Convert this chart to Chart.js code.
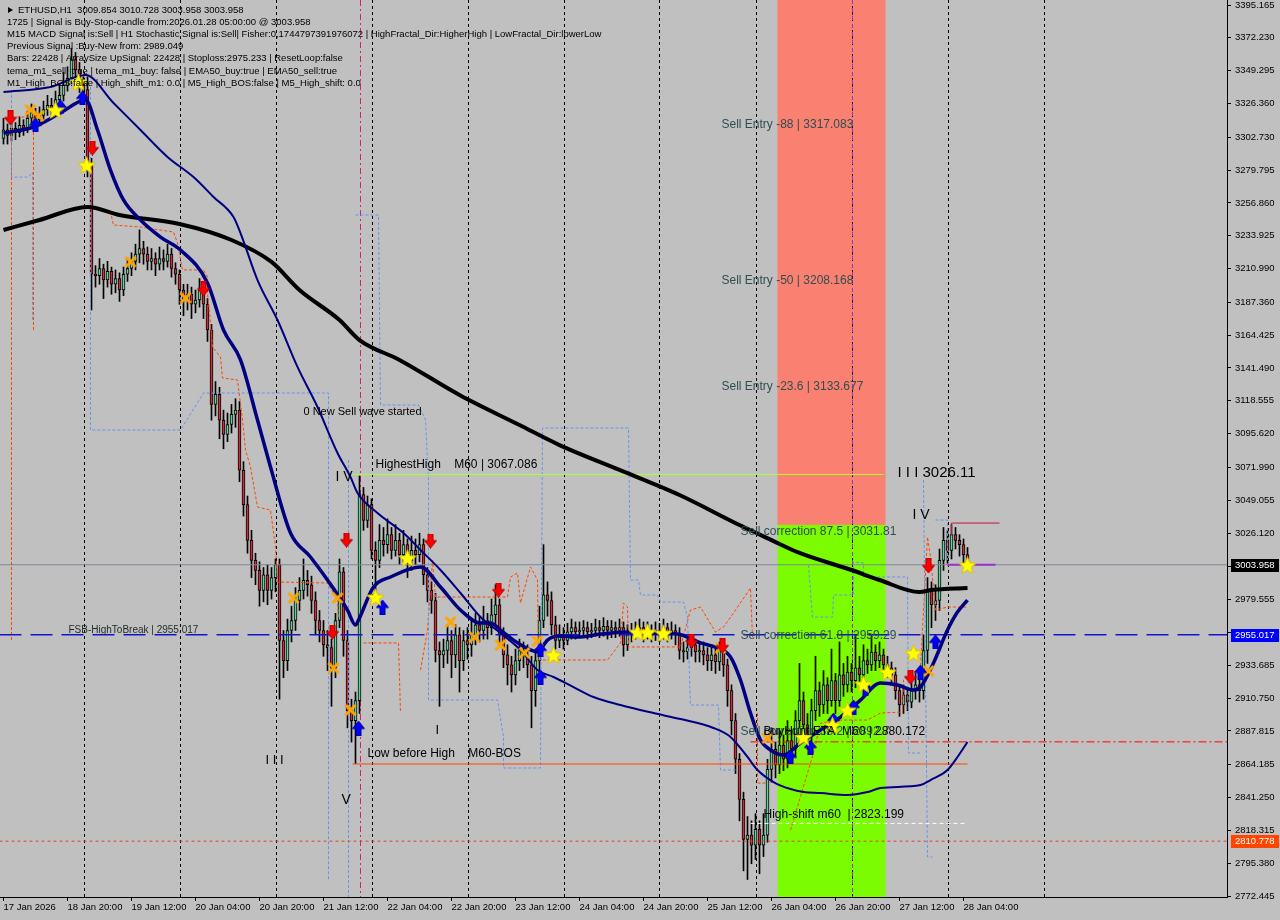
<!DOCTYPE html>
<html>
<head>
<meta charset="utf-8">
<script src="https://cdn.jsdelivr.net/npm/chart.js@4.4.1/dist/chart.umd.min.js"></script>
<style>
html, body { margin: 0; padding: 0; background: #c0c0c0; overflow: hidden; }
canvas { display: block; }
</style>
</head>
<body>
<canvas id="chart" width="1280" height="920"></canvas>
<script>
const FONT = "'Liberation Sans', Arial, sans-serif"

// ETHUSD H1, one bar per hour, bar 0 = 18 Jan 04:00
const firstOpen = 3302
const closes = [
  3308,3304,3309,3306,3311,3309,3316,3320,3315,3318, 3322,3325,3323,3329,3332,3339,3344,3357,3350,3339,
  3336,3283,3207,3206,3211,3203,3209,3200,3204,3196, 3207,3211,3216,3221,3225,3221,3216,3218,3214,3218,
  3216,3221,3211,3207,3196,3189,3193,3186,3189,3196, 3186,3168,3116,3123,3105,3095,3102,3109,3112,3070,
  3046,3021,3007,3000,2986,2997,2986,2995,3004,2951, 2937,2958,2965,2979,2986,2993,2990,2979,2965,2958,
  2948,2946,2932,2965,2999,2951,2902,2895,2909,3053, 3035,3046,3014,3007,3021,3018,3025,3014,3021,3011,
  3018,3007,3014,3011,3018,2997,2986,2979,2944,2941, 2944,2951,2941,2955,2937,2951,2948,2955,2962,2958,
  2965,2960,2969,2976,2955,2941,2934,2927,2937,2944, 2941,2934,2916,2937,2965,2983,2979,2962,2951,2955,
  2951,2957,2960,2957,2958,2960,2957,2958,2960,2958, 2961,2958,2960,2958,2960,2948,2955,2957,2958,2960,
  2957,2958,2956,2958,2956,2960,2957,2958,2955,2944, 2943,2946,2948,2943,2944,2941,2937,2941,2936,2944,
  2934,2916,2895,2868,2840,2812,2815,2808,2819,2808, 2815,2861,2875,2864,2878,2868,2881,2875,2895,2909,
  2892,2885,2902,2916,2906,2920,2909,2923,2909,2927, 2920,2929,2923,2932,2927,2937,2934,2943,2937,2941,
  2934,2932,2927,2916,2906,2913,2908,2916,2920,2916, 2944,2986,2976,2979,3007,3021,3014,3025,3021,3018,
  3011,3003.958
]
const highs = [
  3316,3312,3315,3313,3317,3315,3321,3326,3323,3324, 3328,3332,3330,3335,3340,3348,3352,3365,3362,3355,
  3345,3345,3288,3213,3218,3214,3216,3212,3210,3208, 3212,3218,3222,3228,3238,3230,3226,3225,3222,3226,
  3224,3228,3225,3215,3210,3200,3200,3198,3196,3204, 3200,3190,3172,3132,3128,3112,3110,3116,3120,3118,
  3076,3052,3028,3012,3006,3002,3004,3002,3008,3008, 2958,2966,2975,2988,2995,3008,3000,2996,2985,2972,
  2965,2958,2952,2970,3008,3002,2958,2910,2915,3066, 3058,3052,3050,3020,3032,3030,3036,3030,3032,3026,
  3028,3022,3024,3022,3026,3022,3002,2992,2984,2950, 2952,2962,2958,2962,2960,2958,2960,2965,2970,2968,
  2975,2970,2980,2990,2980,2960,2948,2940,2945,2952, 2950,2948,2940,2945,2975,3018,2992,2985,2968,2962,
  2960,2963,2966,2964,2964,2965,2964,2963,2966,2965, 2967,2965,2965,2964,2966,2964,2962,2963,2964,2966,
  2964,2964,2962,2964,2963,2966,2963,2964,2962,2960, 2950,2952,2955,2952,2950,2950,2946,2948,2946,2950,
  2948,2938,2920,2900,2872,2845,2828,2825,2830,2825, 2830,2868,2890,2880,2888,2885,2895,2888,2902,2935,
  2915,2900,2910,2940,2922,2930,2925,2945,2928,2950, 2935,2940,2935,2955,2940,2948,2945,2955,2948,2950,
  2945,2940,2936,2932,2920,2920,2918,2925,2928,2926, 2955,2995,2992,2990,3015,3030,3028,3032,3030,3025,
  3022,3016
]
const lows = [
  3298,3298,3300,3301,3303,3304,3306,3312,3310,3312, 3315,3318,3318,3320,3325,3328,3335,3340,3345,3334,
  3328,3275,3182,3198,3200,3190,3198,3193,3194,3188, 3192,3202,3206,3210,3215,3214,3210,3210,3206,3210,
  3210,3212,3205,3200,3186,3178,3182,3176,3180,3184, 3176,3160,3105,3108,3092,3085,3090,3096,3100,3062,
  3038,3012,2995,2990,2975,2978,2976,2980,2985,2910, 2925,2930,2950,2958,2972,2980,2982,2970,2955,2950,
  2940,2930,2905,2925,2960,2940,2890,2880,2865,2900, 3028,3030,3008,2980,3002,3010,3012,3008,3010,3004,
  3006,2995,3000,3004,3006,2990,2978,2970,2936,2905, 2932,2935,2925,2932,2915,2930,2938,2940,2948,2950,
  2952,2952,2955,2962,2948,2932,2920,2915,2920,2930, 2932,2925,2890,2905,2930,2960,2968,2955,2945,2946,
  2945,2948,2952,2952,2953,2954,2952,2953,2954,2953, 2954,2952,2953,2953,2954,2940,2944,2950,2952,2954,
  2950,2952,2950,2951,2950,2952,2950,2952,2948,2938, 2936,2938,2940,2936,2936,2934,2930,2930,2928,2930,
  2926,2905,2885,2858,2825,2790,2784,2795,2798,2788, 2800,2810,2852,2855,2858,2860,2862,2865,2870,2890,
  2880,2875,2878,2895,2898,2900,2900,2905,2900,2905, 2912,2915,2915,2918,2920,2925,2928,2930,2930,2932,
  2928,2925,2920,2910,2898,2900,2902,2904,2910,2908, 2910,2935,2960,2965,2972,3000,3005,3008,3015,3010,
  3005,3002
]

const timeTickBars = [0,16,32,48,64,80,96,112,128,144,160,176,192,208,224,240]
const timeLabels = ['17 Jan 2026','18 Jan 20:00','19 Jan 12:00','20 Jan 04:00','20 Jan 20:00','21 Jan 12:00',
  '22 Jan 04:00','22 Jan 20:00','23 Jan 12:00','24 Jan 04:00','24 Jan 20:00','25 Jan 12:00',
  '26 Jan 04:00','26 Jan 20:00','27 Jan 12:00','28 Jan 04:00']
const priceTicks = [3395.165,3372.230,3349.295,3326.360,3302.730,3279.795,3256.860,3233.925,3210.990,
  3187.360,3164.425,3141.490,3118.555,3095.620,3071.990,3049.055,3026.120,3002.850,2979.555,2956.620,
  2933.685,2910.750,2887.815,2864.185,2841.250,2818.315,2795.380,2772.445]
const daySeparators = [20,44,68,92,116,140,164,188,212,236,260]

// moving averages, [bar, price]
const emaSlow = [[0,3237.9],[9,3244.9],[21,3254],[29,3248.4],[44,3242.1],[57,3230.9],[67,3215.6],[74,3196],
  [84,3175],[89,3161],[99,3147.1],[114,3122.6],[129,3101.6],[139,3087.6],[154,3070.2],[169,3052.7],
  [184,3031.7],[192,3021.2],[199,3012.2],[212,3000.3],[219,2993.3],[229,2984.9],[232,2986.3],[241,2987.7]]
const maFast = [[0,3305.7],[7.5,3309.9],[14.25,3319.7],[20.5,3328.8],[23.5,3307.8],[26.75,3279.8],[30,3258.9],
  [34.25,3244.9],[39.25,3233],[44.25,3223.9],[51,3200.9],[55,3168],[59.25,3147.1],[63.5,3105.1],[66.75,3072.3],
  [71.75,3026.2],[76.75,3009.4],[81,2993.3],[86,2972.3],[88,2961.8],[88.75,2965.3],[92.5,2988.4],[96.75,2995.4],
  [104.25,3002.4],[109.25,2988.4],[114.25,2972.3],[119.25,2963.2],[121.75,2963.2],[124.25,2958.3],[127.5,2951.3],
  [131.75,2944.4],[133.5,2943],[136,2951.3],[138.5,2954.2],[143.5,2953.4],[149.25,2955.5],[156,2956.9],
  [162.5,2956.2],[168.5,2955.5],[174.25,2949.3],[178.5,2945.8],[181.75,2939.5],[184.25,2923.4],[186.75,2900.3],
  [189.25,2881.5],[191.75,2874.5],[195,2871],[199.25,2879.4],[204.25,2888.5],[209.25,2897.5],[214.25,2909.4],
  [219.25,2921.3],[223.5,2919.9],[227.5,2916.4],[229.25,2918.5],[232.5,2935.3],[236,2958.3],[238.5,2970.9],[241,2979.3]]
const maMid = [[0,3334.4],[11.75,3337.9],[20.5,3346.2],[27.5,3326.7],[34.25,3307.8],[41,3289],[47.5,3274.9],
  [52.5,3261],[57.5,3247],[59.25,3235.8],[63.5,3202.9],[68.5,3175],[73.5,3142.2],[78.5,3114.2],[83.5,3082.1],
  [86.75,3065.3],[88.5,3054.1],[93.5,3040.1],[100,3026.1],[104.25,3014.3],[109.25,3000.3],[114.25,2984.2],
  [119.25,2967.4],[124.25,2956.2],[129.25,2944.4],[133.5,2930.4],[137.5,2925.5],[142.5,2918.5],[147.5,2911.5],
  [154.25,2905.9],[162.5,2900.3],[169.25,2896.1],[177.5,2889.9],[181.75,2883.6],[186,2869.6],[188.5,2860.5],
  [192.5,2852.1],[196.75,2847.2],[200,2845.1],[204.25,2844.4],[211,2843],[216,2845.1],[219.25,2847.9],
  [229.25,2850],[231.75,2853.5],[236,2860.5],[238.5,2869.6],[241,2880.1]]

// fractal channels, one list per segment, [bar, price]
const blueChannel = [
  [[2,3335.7],[2,3274.9],[6.25,3274.9],[7.25,3278.4],[7.25,3175]],
  [[21.75,3337.9],[21.75,3098.1],[44.25,3098.1],[50,3124],[81.25,3124],[81.25,2783.6]],
  [[86.25,3077.2],[86.25,2771.7]],
  [[88,3248.4],[93.75,3248.4],[94.25,3115.6],[103.75,3115.6],[105.5,3105.1],[106.25,3063.2],[106.25,2909.4],
   [123.5,2909.4],[125,2883.6],[125,2861.9],[134.25,2861.9],[134.75,3099.5],[156.25,3099.5],[156.75,2993.3],
   [158.75,2993.3],[159.25,2982.8],[163.5,2982.8],[164.25,2977.9],[170,2977.9],[171,2967.4],[171.75,2905.9],
   [178.75,2905.9],[179.25,2860.5],[183,2860.5]],
  [[201.25,3003.8],[202.25,2967.4],[207.25,2967.4],[207.5,2982.8],[212.5,2982.8],[212.5,3005.9],[215,3005.2],
   [215,2995.4],[226,2995.4],[226.25,2872.4],[229.25,2872.4]],
  [[230,3063.2],[231,2799.7],[232.25,2799.7]],
  [[233,3035.2],[236,3035.2],[236,3007.3]]
]
const redChannel = [
  [[2,3316.9],[7.25,3316.9]],
  [[2,3316.9],[2,2951.3]],
  [[7.5,3316.9],[7.5,3168]],
  [[21.75,3254],[26.75,3250.5],[27.5,3241.4],[34.25,3240],[42.5,3236.5],[43.5,3228.8],[44.75,3210],[50,3210],
   [51,3205.1],[51,3193.9],[51.75,3172.9],[52.25,3156.1],[54.25,3149.1],[54.75,3134.5],[58.5,3133.1],
   [59.75,3105.1],[60.5,3084.1],[61.75,3072.3],[63.5,3044.3],[66.75,3042.2],[68,3016.4],[68.5,2991.9],
   [81,2991.2],[83.5,2979.3],[83.75,2967.4]],
  [[90,2949.3],[98.75,2949.3],[99.25,2900.3]],
  [[104.25,2930.4],[106,2958.3],[107.25,3007.3],[108,2981.4],[126,2981.4],[126.75,2995.4],[128.5,2998.2],
   [129.25,2977.2],[131.75,3002.4],[133.5,2993.3],[133.75,2937.4],[151,2937.4],[154.25,2949.3],[155,2977.2],
   [156,2974.4],[156.25,2946.5],[169.25,2946.5],[171.75,2972.3],[174.25,2974.4],[178,2956.9],[180,2960.4],
   [182.5,2970.2],[186.75,2987.7],[187.25,2953.4]],
  [[188.5,2900.3],[188.5,2851.4],[191,2851.4]],
  [[196.75,2818.5],[202.5,2872.4],[204.25,2893.3],[209.25,2895.4],[216,2895.4],[219.25,2900.3],[224.75,2901],
   [225,2923.4],[229.25,2932.5],[231,3023.3],[231.75,3009.4],[233,2972.3],[236,2974.4],[241,2974.4]]
]

// price levels
const bidPrice = 3003.958
const fsbHighToBreak = 2955.017
const lowMarker = 2810.778
const highestHigh = 3067.086
const lowBeforeHigh = 2864.7
const buyHunt = 2880.172
const highShift = 2823.199
const correctionTop = 3033.1
const zoneFrom = 194, zoneTo = 220, zoneSplit = 3031.81

// signal markers, [bar, price]
const sellArrows = [[1.75,3316.2],[22.25,3295.2],[50,3196.7],[85.75,3021.2],[82.25,2956.9],[106.75,3020.5],
  [123.75,2986.3],[172,2950.6],[179.75,2947.2],[231.25,3003.1],[226.75,2925.5]]
const buyArrows = [[8,3311.3],[14.25,3323.9],[19.75,3330.2],[88.75,2889.8],[94.75,2974.4],[134.25,2925.5],
  [134.25,2944.4],[196.75,2869.6],[201.75,2876.5],[207.5,2895.4],[212.5,2904.5],[215.5,2917.8],[229.25,2929],[233,2950]]
const stars = [[13,3321.8],[18.75,3341.4],[20.75,3283.4],[93,2981.4],[101,3008.7],[137.5,2940.9],[158.5,2956.9],
  [161,2956.9],[165,2956.2],[200,2883.5],[207.25,2891.9],[211,2902.4],[215,2920.6],[221,2929],[227.5,2942.3],[241,3003.8]]
const crosses = [[6.75,3321.8],[8.75,3317.6],[31.75,3215.6],[45.5,3190.4],[72.5,2980.7],[83.5,2980.7],[82.5,2931.8],
  [86.75,2902.4],[111.75,2963.9],[117.75,2953.4],[124.25,2947.9],[130.25,2942.3],[133.5,2950.6],[179.25,2945.7],
  [191,2882.8],[231.25,2929.7]]

const notes = [
  {text: 'Sell Entry -88 | 3317.083', bar: 179.5, price: 3317.083, dy: 8, size: 12, color: '#2f4f4f'},
  {text: 'Sell Entry -50 | 3208.168', bar: 179.5, price: 3208.168, dy: 8, size: 12, color: '#2f4f4f'},
  {text: 'Sell Entry -23.6 | 3133.677', bar: 179.5, price: 3133.677, dy: 8, size: 12, color: '#2f4f4f'},
  {text: 'Sell correction 87.5 | 3031.81', bar: 184.25, price: 3031.81, dy: 7, size: 12, color: '#2f4f4f'},
  {text: 'Sell correction 61.8 | 2959.29', bar: 184.25, price: 2959.29, dy: 7, size: 12, color: '#2f4f4f'},
  {text: 'Sell correction 38.2 | 2892.7', bar: 184.25, price: 2892.7, dy: 8, size: 12, color: '#2f4f4f'},
  {text: 'BuyHunt ETA  M60 | 2880.172', bar: 190, price: 2880.172, dy: -10, size: 12, color: '#000'},
  {text: 'High-shift m60  | 2823.199', bar: 190, price: 2823.199, dy: -9, size: 12, color: '#000'},
  {text: 'HighestHigh    M60 | 3067.086', bar: 93, price: 3067.086, dy: -10, size: 12, color: '#000'},
  {text: 'Low before High    M60-BOS', bar: 91, price: 2864.7, dy: -10, size: 12, color: '#000'},
  {text: 'FSB-HighToBreak | 2955.017', bar: 16.25, price: 2955.017, dy: -5, size: 10, color: '#1e2a2a'},
  {text: '0 New Sell wave started', bar: 75, price: 3110.7, dy: 0, size: 11, color: '#000'},
  {text: 'I I I 3026.11', bar: 223.5, price: 3068.1, dy: 0, size: 15, color: '#000'},
  {text: 'I V', bar: 227.25, price: 3038.7, dy: 0, size: 14, color: '#000'},
  {text: 'I V', bar: 83, price: 3065.3, dy: 0, size: 14, color: '#000'},
  {text: 'V', bar: 84.5, price: 2839.5, dy: 0, size: 14, color: '#000'},
  {text: 'I I I', bar: 65.5, price: 2867.5, dy: 0, size: 13, color: '#000'},
  {text: 'I', bar: 108, price: 2888.5, dy: 0, size: 13, color: '#000'}
]

const infoLines = [
  'ETHUSD,H1  3009.854 3010.728 3003.958 3003.958',
  '1725 | Signal is Buy-Stop-candle from:2026.01.28 05:00:00 @ 3003.958',
  'M15 MACD Signal is:Sell | H1 Stochastic Signal is:Sell| Fisher:0,1744797391976072 | HighFractal_Dir:HigherHigh | LowFractal_Dir:lowerLow',
  'Previous Signal :Buy-New from: 2989.049',
  'Bars: 22428 | ArraySize UpSignal: 22428 | Stoploss:2975.233 | ResetLoop:false',
  'tema_m1_sell: true | tema_m1_buy: false | EMA50_buy:true | EMA50_sell:true',
  'M1_High_BOS:false | High_shift_m1: 0.0 | M5_High_BOS:false | M5_High_shift: 0.0'
]

// ---------- icons ----------
function makeStar(size) {
  let c = document.createElement('canvas')
  c.width = c.height = size
  let g = c.getContext('2d')
  let r = size / 2
  g.beginPath()
  for (let k = 0; k < 10; k++) {
    let a = -Math.PI / 2 + k * Math.PI / 5
    let rr = k % 2 ? r * 0.42 : r - 0.5
    g.lineTo(r + rr * Math.cos(a), r + 1 + rr * Math.sin(a))
  }
  g.closePath()
  g.fillStyle = '#ffff00'
  g.fill()
  g.strokeStyle = '#e0c000'
  g.lineWidth = 1
  g.stroke()
  return c
}
function makeArrow(fill, edge, up) {
  let c = document.createElement('canvas')
  c.width = 13; c.height = 15
  let g = c.getContext('2d')
  if (up) { g.translate(0, 15); g.scale(1, -1) }
  g.beginPath()
  g.moveTo(4, 0); g.lineTo(9, 0); g.lineTo(9, 7); g.lineTo(12.5, 7)
  g.lineTo(6.5, 14.5); g.lineTo(0.5, 7); g.lineTo(4, 7)
  g.closePath()
  g.fillStyle = fill
  g.fill()
  g.strokeStyle = edge
  g.lineWidth = 1
  g.stroke()
  return c
}
function makeCross() {
  let c = document.createElement('canvas')
  c.width = c.height = 14
  let g = c.getContext('2d')
  g.strokeStyle = '#ffa500'
  g.lineWidth = 3
  g.beginPath()
  g.moveTo(2, 2); g.lineTo(12, 12)
  g.moveTo(12, 2); g.lineTo(2, 12)
  g.stroke()
  return c
}

// ---------- datasets ----------
const toXY = arr => arr.map(p => ({x: p[0], y: p[1]}))
let opens = closes.map((c, i) => i == 0 ? firstOpen : closes[i - 1])
let wickData = closes.map((c, i) => ({x: i, y: [lows[i], highs[i]]}))
let bodyData = closes.map((c, i) => ({x: i, y: [opens[i], c]}))
let bodyColors = closes.map((c, i) => c >= opens[i] ? '#5fd39a' : '#c8323f')

function lineDs(points, color, width, dash, order) {
  return {
    type: 'line', data: toXY(points), borderColor: color, borderWidth: width,
    borderDash: dash || [], pointRadius: 0, tension: 0, order: order, fill: false
  }
}
function maDs(points, color, width, order) {
  return {
    type: 'line', data: toXY(points), borderColor: color, borderWidth: width,
    pointRadius: 0, cubicInterpolationMode: 'monotone', order: order, fill: false
  }
}
function markerDs(points, img, order) {
  return {
    type: 'line', data: toXY(points), showLine: false, pointStyle: img,
    pointRadius: 6, order: order
  }
}

let datasets = [
  {type: 'bar', data: wickData, backgroundColor: '#000', barThickness: 1, grouped: false, order: 30},
  {type: 'bar', data: bodyData, backgroundColor: bodyColors, borderColor: '#000', borderWidth: 1,
    borderSkipped: false, barThickness: 3, grouped: false, minBarLength: 1, order: 29}
]
for (let seg of blueChannel) datasets.push(lineDs(seg, '#6495ed', 1, [3, 2], 12))
for (let seg of redChannel) datasets.push(lineDs(seg, '#ff4500', 1, [3, 2], 12))
datasets.push(
  lineDs([[-1, bidPrice], [306, bidPrice]], '#7d8893', 1, null, 14),
  lineDs([[-1, fsbHighToBreak], [306, fsbHighToBreak]], '#1414d0', 1.5, [22, 9], 11),
  lineDs([[-1, lowMarker], [306, lowMarker]], '#d84a20', 1, [3, 3], 11),
  lineDs([[87.25, highestHigh], [220, highestHigh]], '#adff2f', 1, null, 11),
  lineDs([[87.25, lowBeforeHigh], [241, lowBeforeHigh]], '#ff4500', 1, null, 11),
  lineDs([[186.75, buyHunt], [306, buyHunt]], '#ff0000', 1, [8, 3, 2, 3], 11),
  lineDs([[186.75, highShift], [240.5, highShift]], '#ffffff', 1, [4, 3], 11),
  lineDs([[236, bidPrice], [248, bidPrice]], '#9932cc', 2, null, 10),
  lineDs([[237, 3024.7], [237, correctionTop], [249, correctionTop]], '#c0143c', 1, null, 10),
  maDs(emaSlow, '#000000', 4, 8),
  maDs(maMid, '#000080', 2, 7),
  maDs(maFast, '#000080', 3.5, 6),
  markerDs(crosses, makeCross(), 4),
  markerDs(sellArrows, makeArrow('#ff0000', '#b00000', false), 3),
  markerDs(buyArrows, makeArrow('#0000ff', '#000090', true), 3),
  markerDs(stars, makeStar(19), 2)
)

// ---------- plugins ----------
const backdrop = {
  id: 'backdrop',
  beforeDatasetsDraw(chart) {
    let {ctx, chartArea: a, scales: {x, y}} = chart
    ctx.save()
    ctx.beginPath(); ctx.rect(a.left, a.top, a.right - a.left, a.bottom - a.top); ctx.clip()
    let x0 = x.getPixelForValue(zoneFrom - 0.5), x1 = x.getPixelForValue(zoneTo + 0.5)
    let ySplit = y.getPixelForValue(zoneSplit)
    ctx.fillStyle = '#fa8072'
    ctx.fillRect(x0, a.top, x1 - x0, ySplit - a.top)
    ctx.fillStyle = '#7cfc00'
    ctx.fillRect(x0, ySplit, x1 - x0, a.bottom - ySplit)
    ctx.strokeStyle = '#000'
    ctx.lineWidth = 1
    ctx.setLineDash([3, 3])
    for (let b of daySeparators) {
      let px = Math.round(x.getPixelForValue(b)) + 0.5
      ctx.beginPath(); ctx.moveTo(px, a.top); ctx.lineTo(px, a.bottom); ctx.stroke()
    }
    let vlines = [{bar: 89, color: '#d0207a', dash: [6, 3, 2, 3]}, {bar: 212, color: '#9932cc', dash: [4, 4]}]
    for (let v of vlines) {
      let px = Math.round(x.getPixelForValue(v.bar)) + 0.5
      ctx.strokeStyle = v.color
      ctx.setLineDash(v.dash)
      ctx.beginPath(); ctx.moveTo(px, a.top); ctx.lineTo(px, a.bottom); ctx.stroke()
    }
    ctx.restore()
  }
}

const labels = {
  id: 'labels',
  afterDatasetsDraw(chart) {
    let {ctx, scales: {x, y}} = chart
    ctx.save()
    ctx.textAlign = 'left'
    ctx.textBaseline = 'middle'
    for (let n of notes) {
      ctx.font = n.size + 'px ' + FONT
      ctx.fillStyle = n.color
      ctx.fillText(n.text, x.getPixelForValue(n.bar), y.getPixelForValue(n.price) + n.dy)
    }
    ctx.restore()
  }
}

const badges = {
  id: 'badges',
  afterDraw(chart) {
    let {ctx, chartArea: a, scales: {y}} = chart
    let list = [[bidPrice, '#000000'], [fsbHighToBreak, '#0000ff'], [lowMarker, '#ff4500']]
    ctx.save()
    ctx.font = '9.5px ' + FONT
    ctx.textBaseline = 'middle'
    for (let [p, bg] of list) {
      let py = Math.round(y.getPixelForValue(p))
      ctx.fillStyle = bg
      ctx.fillRect(a.right + 4, py - 6, 48, 13)
      ctx.fillStyle = '#fff'
      ctx.fillText(p.toFixed(3), a.right + 8, py + 0.5)
    }
    ctx.restore()
  }
}

const info = {
  id: 'info',
  afterDraw(chart) {
    let ctx = chart.ctx
    ctx.save()
    ctx.font = '9.5px ' + FONT
    ctx.fillStyle = '#000'
    ctx.textBaseline = 'middle'
    infoLines.forEach((t, k) => ctx.fillText(t, k == 0 ? 18 : 7, 10 + k * 12.2))
    ctx.beginPath(); ctx.moveTo(8, 7); ctx.lineTo(13, 10); ctx.lineTo(8, 13); ctx.closePath(); ctx.fill()
    ctx.restore()
  }
}

let ctx = document.getElementById('chart').getContext('2d')
let chart = new Chart(ctx, {
  type: 'bar',
  data: {datasets: datasets},
  options: {
    responsive: false,
    animation: false,
    devicePixelRatio: 1,
    events: [],
    layout: {padding: 0, autoPadding: false},
    plugins: {legend: {display: false}, tooltip: {enabled: false}},
    scales: {
      x: {
        type: 'linear', offset: false, min: -0.875, max: 305.875,
        grid: {drawOnChartArea: false, drawTicks: true, tickLength: 4, color: '#000', offset: false},
        border: {display: true, color: '#000'},
        ticks: {
          autoSkip: false, maxRotation: 0, align: 'start', padding: 1, color: '#000',
          font: {family: FONT, size: 9.5},
          callback: v => timeLabels[timeTickBars.indexOf(v)]
        },
        afterBuildTicks: s => { s.ticks = timeTickBars.map(v => ({value: v})) },
        afterFit: s => { s.height = 23; s.paddingLeft = 0; s.paddingRight = 0 }
      },
      y: {
        position: 'right', min: 2771.75, max: 3398.66,
        grid: {drawOnChartArea: false, drawTicks: true, tickLength: 4, color: '#000'},
        border: {display: true, color: '#000'},
        ticks: {
          autoSkip: false, padding: 4, color: '#000',
          font: {family: FONT, size: 9.5},
          callback: v => Number(v).toFixed(3)
        },
        afterBuildTicks: s => { s.ticks = priceTicks.map(v => ({value: v})) },
        afterFit: s => { s.width = 53; s.paddingTop = 0; s.paddingBottom = 0 }
      }
    }
  },
  plugins: [backdrop, labels, badges, info]
})
</script>
</body>
</html>
